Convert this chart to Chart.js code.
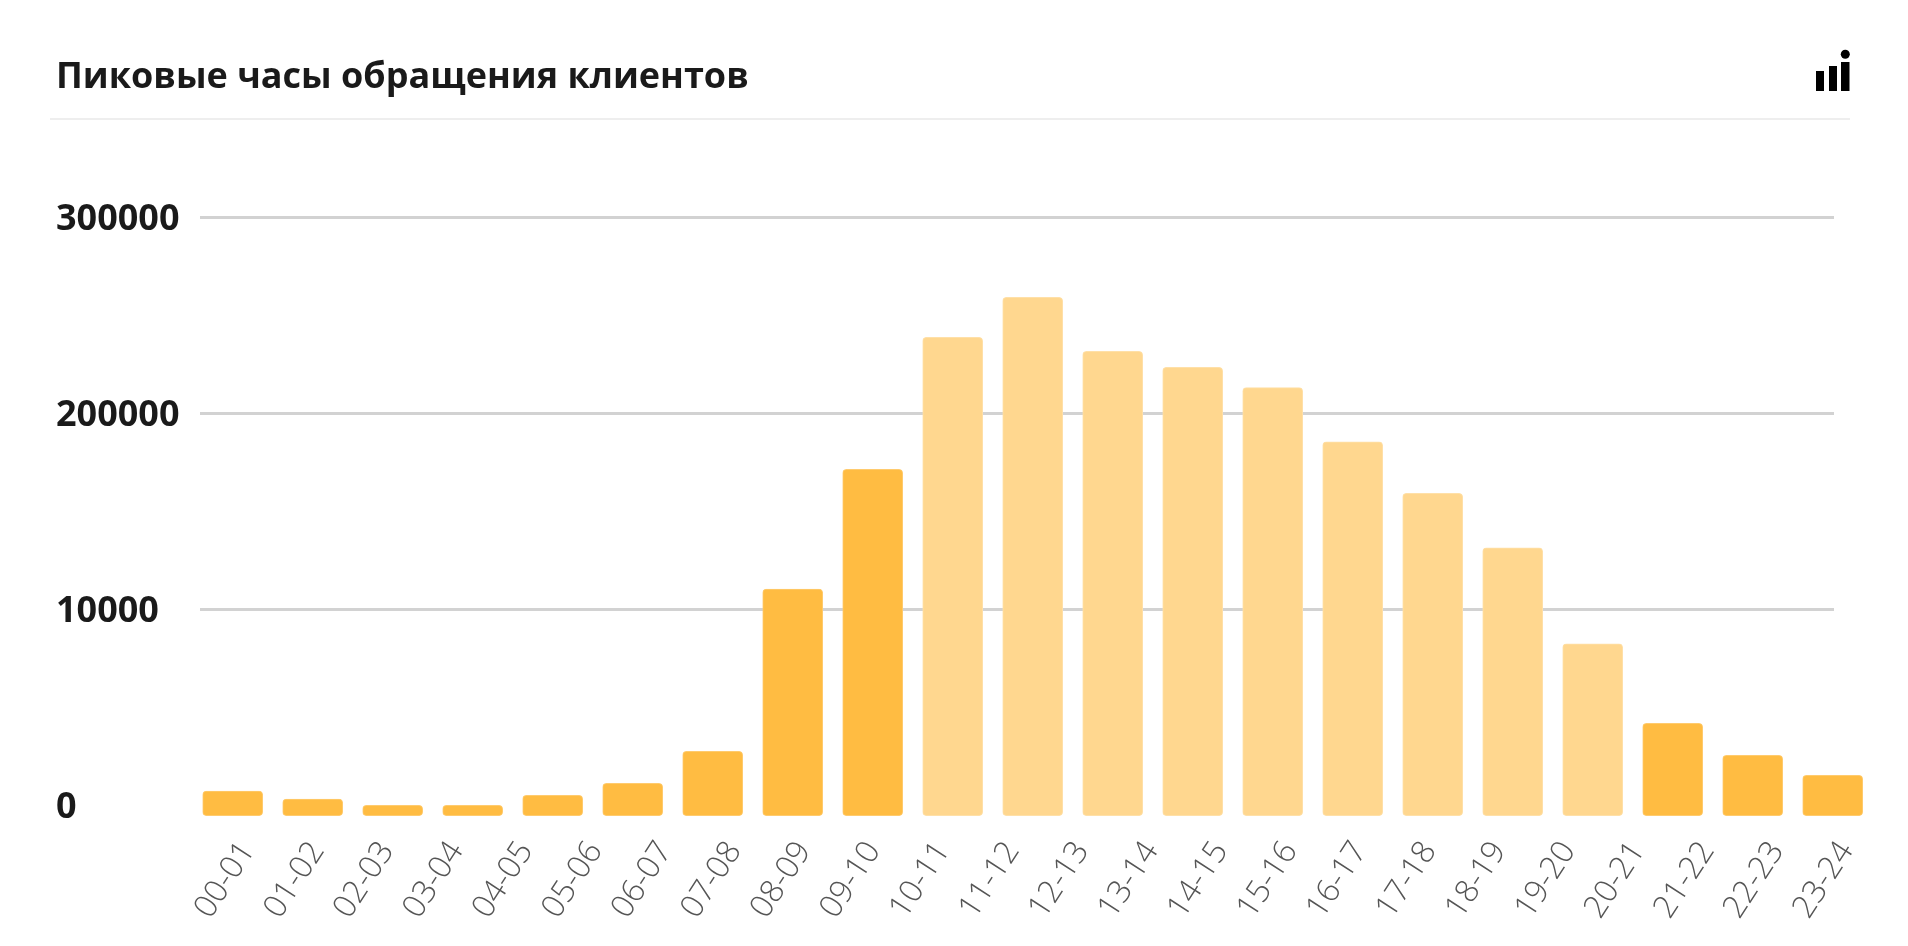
<!DOCTYPE html>
<html lang="ru">
<head>
<meta charset="utf-8">
<title>Пиковые часы обращения клиентов</title>
<script src="https://cdn.jsdelivr.net/npm/chart.js@4"></script>
<style>
html,body{margin:0;padding:0;background:#fff;width:1908px;height:946px;overflow:hidden}
#wrap{position:relative;width:1908px;height:946px}
#title{position:absolute;left:56px;top:52px;font:700 36px/46px "Open Sans",sans-serif;color:#1a1a1a;white-space:nowrap}
#rule{position:absolute;left:50px;top:118px;width:1800px;height:2px;background:#eeeeee}
#icon{position:absolute;left:1816px;top:49px}
canvas{position:absolute;left:0;top:0}
</style>
</head>
<body>
<div id="wrap">
  <canvas id="c" width="1908" height="946"></canvas>
  <div id="title">Пиковые часы обращения клиентов</div>
  <div id="rule"></div>
  <svg id="icon" width="36" height="44" viewBox="0 0 36 44" fill="#000">
    <rect x="0" y="22" width="8" height="20"/><rect x="13" y="17" width="8" height="25"/><rect x="25" y="13" width="8.5" height="29"/><circle cx="29.3" cy="5.3" r="4.5"/>
  </svg>
</div>
<script>
const hourLabels = ['00-01','01-02','02-03','03-04','04-05','05-06','06-07','07-08','08-09','09-10','10-11','11-12','12-13','13-14','14-15','15-16','16-17','17-18','18-19','19-20','20-21','21-22','22-23','23-24'];
const barValues = [7500,3400,200,200,5300,11400,27750,110500,171600,239000,259400,231800,223700,213300,185700,159400,131600,82650,42000,25700,15500];
const yTickValues = [0,100000,200000,300000];
const yTickLabels = ['0','10000','200000','300000'];
const darkColor = '#FFBC42', lightColor = '#FFD78F';
const darkBars = [0,1,2,3,4,5,6,7,8,18,19,20];

new Chart(document.getElementById('c'), {
  type: 'bar',
  data: {
    datasets: [{
      data: barValues.map((v,i)=>({x:i,y:v})),
      base: -5100,
      clip: false,
      barThickness: 60,
      borderRadius: 4,
      borderSkipped: false,
      borderWidth: 1,
      borderColor: ctx => darkBars.includes(ctx.dataIndex) ? '#FFCB6E' : '#FFE0A8',
      backgroundColor: ctx => darkBars.includes(ctx.dataIndex) ? darkColor : lightColor,
      xAxisID: 'x', yAxisID: 'y'
    }]
  },
  options: {
    responsive: false, animation: false, events: [],
    layout: {padding: {left: 56, right: 74, top: 217.7, bottom: 0}},
    plugins: {legend: {display: false}, tooltip: {enabled: false}},
    scales: {
      x: {type:'linear', bounds:'data', offset:false, display:false, min:-0.40875, max:20.01625},
      x2: {
        type:'linear', bounds:'data', offset:false, position:'bottom', axis:'x',
        min:-0.69, max:22.821, 
        grid:{display:false}, border:{display:false},
        afterFit: s => { s.height = 140.3; },
        afterBuildTicks: s => { s.ticks = hourLabels.map((_,value)=>({value})); },
        ticks:{
          autoSkip:false, maxRotation:57, minRotation:57, padding:21,
          color:'#555555', font:{family:'"Open Sans"', size:32, weight:'300'},
          callback: v => hourLabels[v]
        }
      },
      y: {
        min:0, max:300000, position:'left',
        afterFit: s => { s.width = 144; },
        afterBuildTicks: s => { s.ticks = yTickValues.map(value=>({value})); },
        grid:{drawTicks:false, lineWidth:3, color: c => c.tick && c.tick.value===0 ? 'rgba(0,0,0,0)' : '#d2d2d2'},
        border:{display:false},
        ticks:{
          crossAlign:'far', padding:0, color:'#1a1a1a', labelOffset:2,
          font:{family:'"Open Sans"', size:36, weight:'700'},
          callback: (v) => yTickLabels[yTickValues.indexOf(v)]
        }
      }
    }
  }
});
</script>
</body>
</html>
